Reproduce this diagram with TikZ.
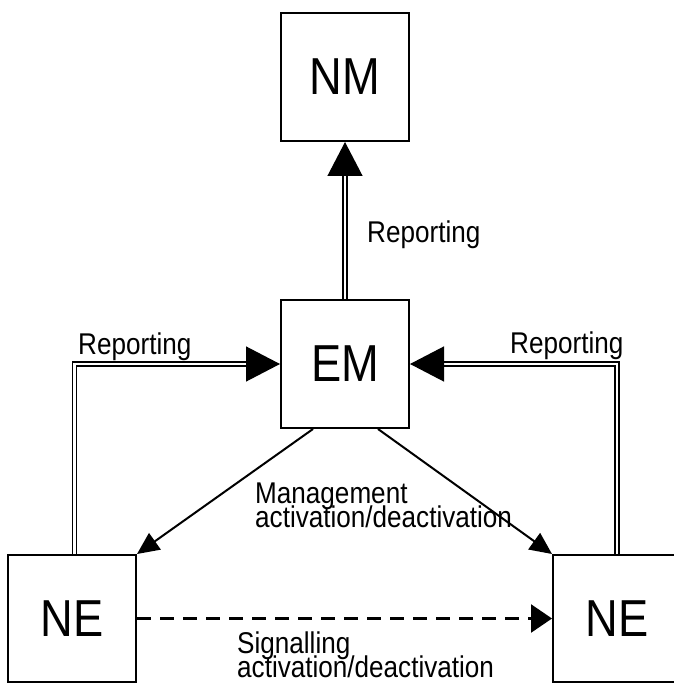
\documentclass[tikz,border=0pt]{standalone}
\usepackage{fontspec}
\setmainfont{Liberation Sans}[FakeStretch=0.87]
\usetikzlibrary{arrows.meta}
\newcommand\myfontA{\fontsize{30}{24}\selectfont\lineskiplimit-40pt\relax}
\newcommand\myfontB{\fontsize{30}{24}\selectfont\lineskiplimit-40pt\relax}
\tikzset{
  box/.style={draw, line width=2pt, minimum width=128pt, minimum height=128pt, inner sep=0pt, font=\fontsize{52}{56}\selectfont},
  report/.style={double, line width=1.3pt, double distance=2.5pt, -{Triangle[length=34pt,width=35pt]}},
  mgmt/.style={line width=2pt, -{Triangle[length=22pt,width=20pt]}},
  signal/.style={line width=2.5pt, dash pattern=on 14pt off 9pt, -{Triangle[length=21pt,width=28pt]}},
  lbl/.style={inner sep=0pt, font=\myfontA, align=left}
}
\begin{document}
\begin{tikzpicture}[x=1pt,y=-1pt]
\useasboundingbox (0,0) rectangle (673,684);
\node[box] (NM) at (345,77) {NM};
\node[box] (EM) at (345,364) {EM};
\node[box, minimum height=127pt] (NE1) at (72,618.5) {NE};
\node[box, minimum height=127pt] (NE2) at (617,618.5) {NE};
\draw[report] (EM.north) -- (NM.south);
\draw[report] ([xshift=2.5pt]NE1.north) |- (EM.west);
\draw[report] (NE2.north) |- (EM.east);
\draw[mgmt] ([xshift=-32pt]EM.south) -- (NE1.north east);
\draw[mgmt] ([xshift=33pt]EM.south) -- (NE2.north west);
\draw[signal] (NE1.east) -- (NE2.west);
\node[lbl, anchor=base west] (r1) at (367,243) {Reporting};
\node[lbl, anchor=base west] (r2) at (78,354) {Reporting};
\node[lbl, anchor=base west] (r3) at (510,353) {Reporting};
\node[lbl, anchor=north west] (m) at (255,483) {Management\\activation/deactivation};
\node[lbl, anchor=north west, font=\myfontB] (s) at (237,632) {Signalling\\activation/deactivation};
\end{tikzpicture}
\end{document}
